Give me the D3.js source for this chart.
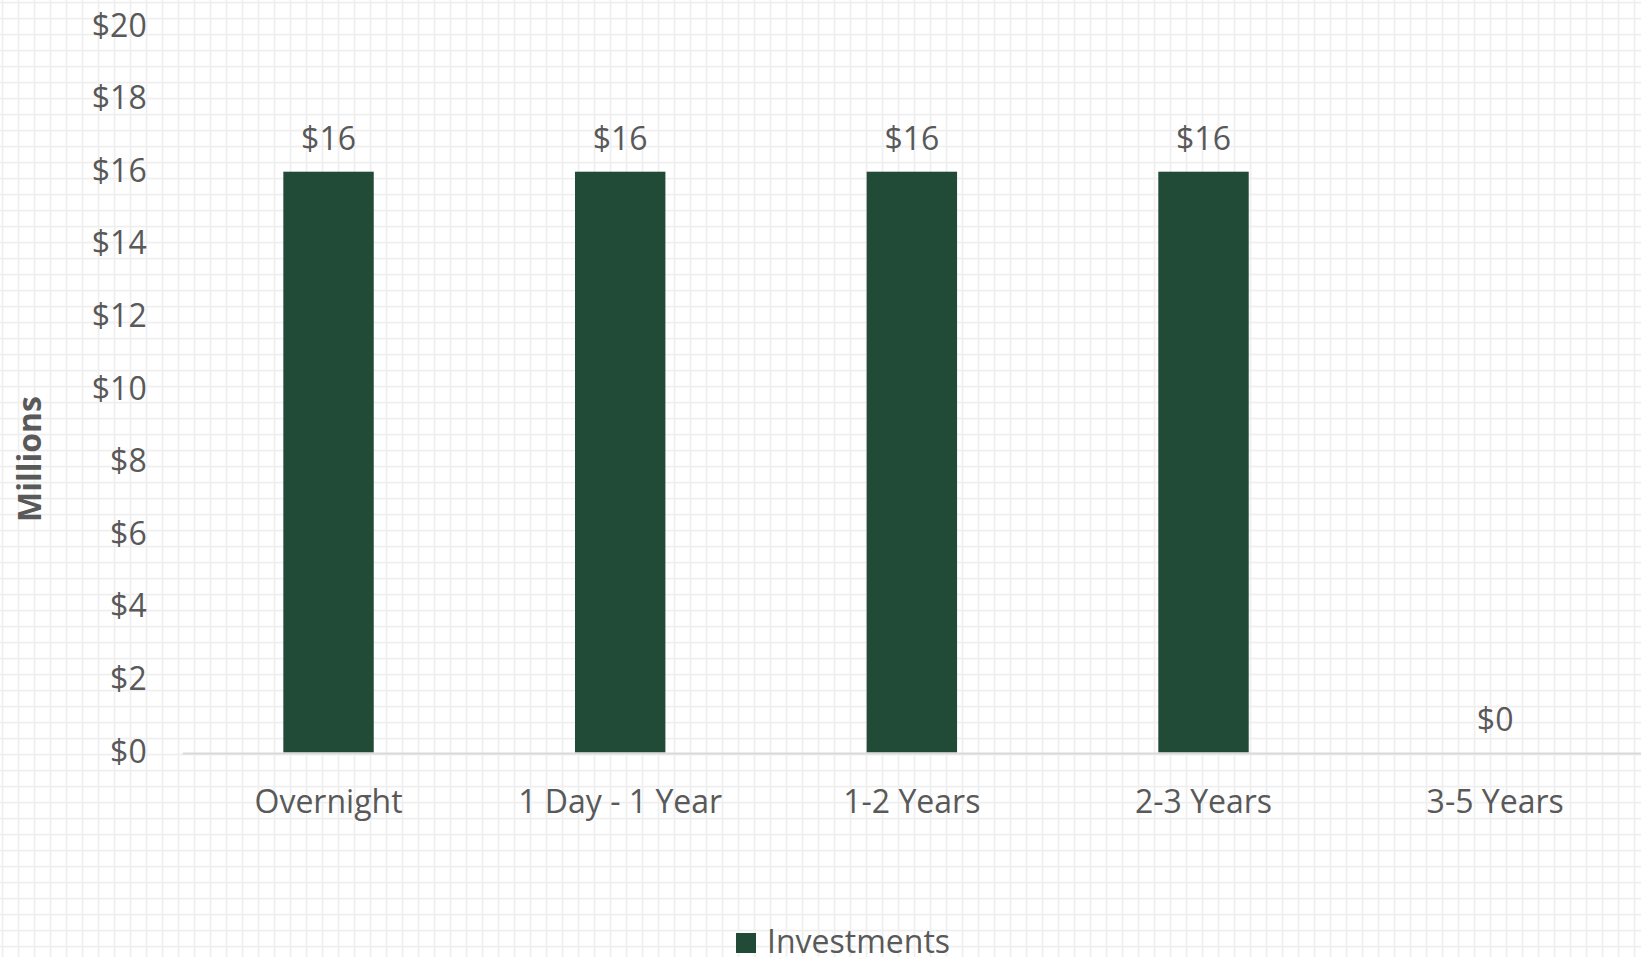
<!DOCTYPE html>
<html>
<head>
<meta charset="utf-8">
<script src="https://cdnjs.cloudflare.com/ajax/libs/d3/7.8.5/d3.min.js"></script>
<style>
body { margin:0; padding:0; background:#fff; }
svg { display:block; font-family:"Open Sans", sans-serif; }
</style>
</head>
<body>
<svg></svg>
<script>
var categories = ["Overnight","1 Day - 1 Year","1-2 Years","2-3 Years","3-5 Years"];
var investments = [16,16,16,16,0];
var yTicks = [0,2,4,6,8,10,12,14,16,18,20];
var seriesName = "Investments";

var screen = {width:1641,height:957}
var margins = {top:26.5,right:0,bottom:204.5,left:182.7}
var barColor = "#214b37";
var textColor = "#595959";

var svg = d3.select("svg")
    .attr("width",screen.width)
    .attr("height",screen.height);

// squared paper background
var pat = svg.append("defs").append("pattern")
    .attr("id","grid")
    .attr("width",16).attr("height",16)
    .attr("patternUnits","userSpaceOnUse");
pat.append("rect").attr("width",16).attr("height",16).attr("fill","#fff");
pat.append("rect").attr("x",1.7).attr("y",0).attr("width",1.7).attr("height",16).attr("fill","#efefef");
pat.append("rect").attr("x",0).attr("y",1.7).attr("width",16).attr("height",1.7).attr("fill","#efefef");

svg.append("rect")
    .attr("width",screen.width)
    .attr("height",screen.height)
    .attr("fill","url(#grid)");

var width = screen.width - margins.left - margins.right;
var height = screen.height - margins.top - margins.bottom;

var xScale = d3.scaleBand()
    .domain(categories)
    .range([margins.left, margins.left + width])
    .paddingInner(0.69)
    .paddingOuter(0.345);

var yScale = d3.scaleLinear()
    .domain([0,20])
    .range([margins.top + height, margins.top]);

// y axis labels
var yAxis = d3.axisLeft(yScale)
    .tickValues(yTicks)
    .tickSize(0)
    .tickPadding(0)
    .tickFormat(function(d){ return "$" + d; });

var yg = svg.append("g")
    .attr("transform","translate(146.7,0)")
    .call(yAxis);
yg.select(".domain").remove();
yg.selectAll("text")
    .attr("fill",textColor)
    .attr("dy","0.3em")
    .style("font-size","32px")
    .style("font-family","'Open Sans', sans-serif");

// bars
svg.append("g")
    .selectAll("rect")
    .data(investments)
    .enter()
    .append("rect")
    .attr("x", function(d,i){ return xScale(categories[i]); })
    .attr("y", function(d){ return yScale(d); })
    .attr("width", xScale.bandwidth())
    .attr("height", function(d){ return yScale(0) - yScale(d); })
    .attr("fill", barColor);

// baseline
svg.append("line")
    .attr("x1", margins.left)
    .attr("x2", screen.width)
    .attr("y1", yScale(0) + 1)
    .attr("y2", yScale(0) + 1)
    .attr("stroke","#d9d9d9")
    .attr("stroke-width",2);

// data labels
svg.append("g")
    .selectAll("text")
    .data(investments)
    .enter()
    .append("text")
    .attr("x", function(d,i){ return xScale(categories[i]) + xScale.bandwidth()/2; })
    .attr("y", function(d){ return yScale(d) - 22; })
    .attr("text-anchor","middle")
    .attr("fill",textColor)
    .style("font-size","32px")
    .text(function(d){ return "$" + d; });

// x axis labels
var xAxis = d3.axisBottom(xScale)
    .tickSize(0)
    .tickPadding(0);
var xg = svg.append("g")
    .attr("transform","translate(0," + (yScale(0)) + ")")
    .call(xAxis);
xg.select(".domain").remove();
xg.selectAll("text")
    .attr("y", 60)
    .attr("dy", 0)
    .attr("fill",textColor)
    .style("font-size","32px")
    .style("font-family","'Open Sans', sans-serif");

// y axis title
svg.append("text")
    .attr("transform","translate(41,459) rotate(-90)")
    .attr("text-anchor","middle")
    .attr("fill",textColor)
    .style("font-size","32px")
    .style("font-weight","bold")
    .text("Millions");

// legend
var legend = svg.append("g");
legend.append("rect")
    .attr("x",736).attr("y",933)
    .attr("width",20).attr("height",20)
    .attr("fill",barColor);
legend.append("text")
    .attr("x",767)
    .attr("y",953)
    .attr("fill",textColor)
    .style("font-size","32px")
    .text(seriesName);
</script>
</body>
</html>
